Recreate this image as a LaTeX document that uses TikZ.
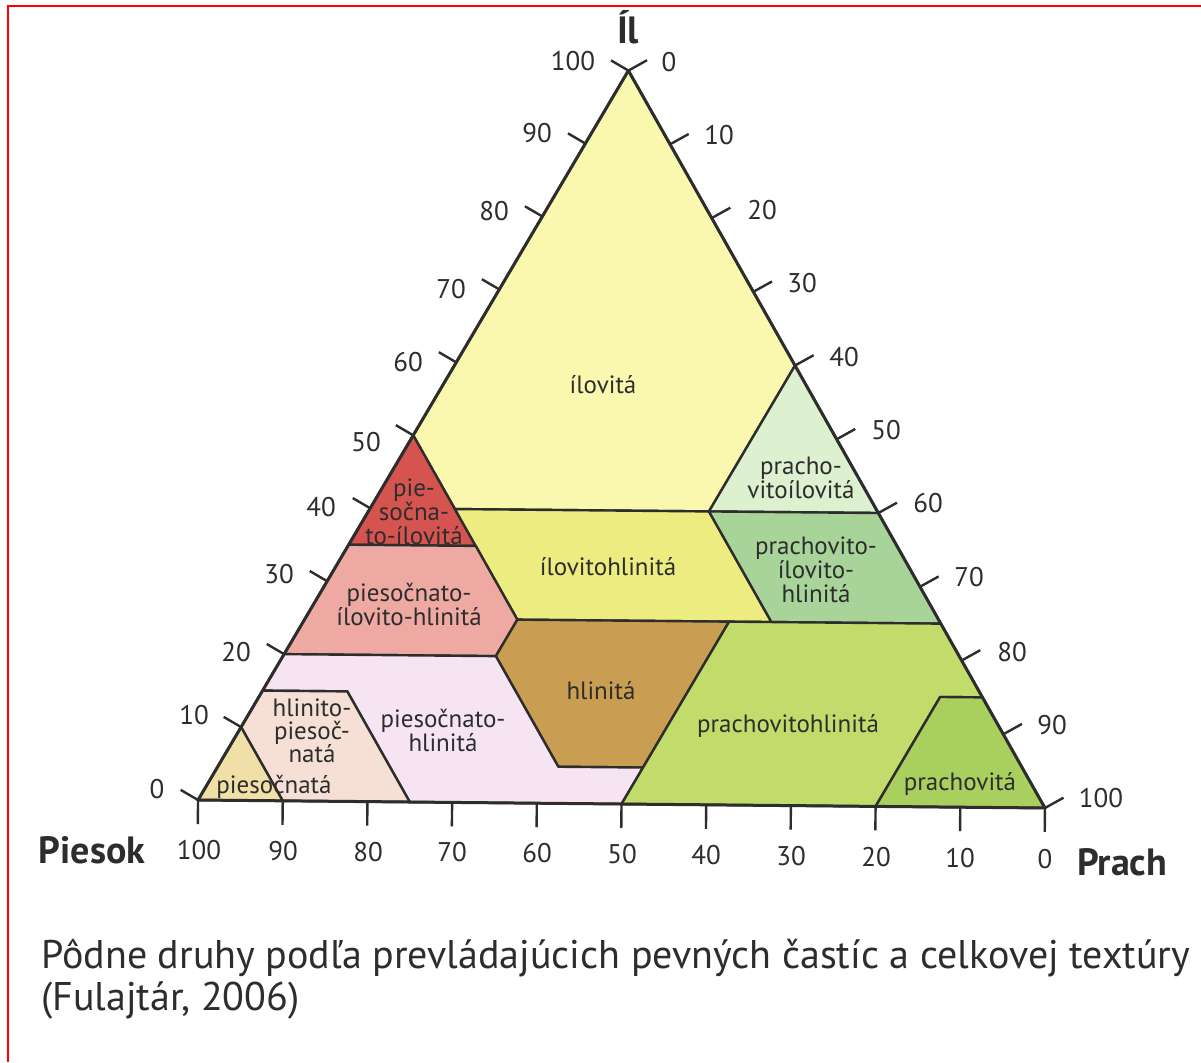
\documentclass[tikz,border=0pt]{standalone}
\usepackage{fontspec}
\setmainfont{PT Sans}
\definecolor{cIl}{RGB}{249,248,174}
\definecolor{cIlHl}{RGB}{236,236,128}
\definecolor{cRed}{RGB}{214,84,80}
\definecolor{cPink}{RGB}{239,169,163}
\definecolor{cLav}{RGB}{246,228,242}
\definecolor{cHlPs}{RGB}{246,224,214}
\definecolor{cPs}{RGB}{241,223,168}
\definecolor{cHl}{RGB}{202,158,82}
\definecolor{cPrHl}{RGB}{194,220,108}
\definecolor{cPr}{RGB}{169,207,94}
\definecolor{cPrIlHl}{RGB}{168,212,154}
\definecolor{cPrIl}{RGB}{221,240,208}
\definecolor{ink}{RGB}{45,45,45}
\begin{document}
\begin{tikzpicture}[x=1pt,y=-1pt,
  region/.style={draw=ink, line width=2.4pt, line join=round},
  tickmark/.style={draw=ink, line width=2.4pt},
  lab/.style={font=\fontsize{25}{24}\selectfont, text=ink, align=center, inner sep=0pt},
  num/.style={font=\fontsize{27}{28}\selectfont, text=ink, inner sep=0pt},
  axisname/.style={font=\bfseries\fontsize{38}{40}\selectfont, text=ink, inner sep=0pt},
  caption/.style={font=\fontsize{40}{44}\selectfont, text=ink, inner sep=0pt, anchor=west}]
\useasboundingbox (0,0) rectangle (1201,1062);
\fill[white] (0,0) rectangle (1201,1062);
\draw[red, line width=2.4pt] (8,1062) -- (8,6) -- (1201,6);

\begin{scope}[rotate around={-0.54:(621.5,804)}]
\begin{scope}[shift={(198,804)}, x={(8.47pt,0pt)}, y={(4.235pt,7.335pt)}]
  % regions (silt, clay)
  \path[region, fill=cIl] (0,100) -- (0,50) -- (10,40) -- (40,40) -- (40,60) -- cycle;
  \path[region, fill=cRed] (0,50) -- (0,35) -- (15,35) -- cycle;
  \path[region, fill=cIlHl] (10,40) -- (40,40) -- (55,25) -- (25,25) -- cycle;
  \path[region, fill=cPrIl] (40,60) -- (40,40) -- (60,40) -- cycle;
  \path[region, fill=cPrIlHl] (40,40) -- (60,40) -- (75,25) -- (55,25) -- cycle;
  \path[region, fill=cPink] (0,35) -- (15,35) -- (25,25) -- (25,20) -- (0,20) -- cycle;
  \path[region, fill=cHl] (25,25) -- (50,25) -- (50,5) -- (40,5) -- (25,20) -- cycle;
  \path[region, fill=cLav] (0,20) -- (25,20) -- (40,5) -- (50,5) -- (50,0) -- (25,0) -- (10,15) -- (0,15) -- cycle;
  \path[region, fill=cHlPs] (0,15) -- (10,15) -- (25,0) -- (10,0) -- (0,10) -- cycle;
  \path[region, fill=cPs] (0,0) -- (0,10) -- (10,0) -- cycle;
  \path[region, fill=cPrHl] (50,25) -- (75,25) -- (85,15) -- (80,15) -- (80,0) -- (50,0) -- cycle;
  \path[region, fill=cPr] (80,15) -- (85,15) -- (100,0) -- (80,0) -- cycle;
  % outline
  \coordinate (Sand) at (0,0);
  \coordinate (Silt) at (100,0);
  \coordinate (Clay) at (0,100);
  \draw[ink, line width=3pt, line join=round] (Sand) -- (Silt) -- (Clay) -- cycle;
  % ticks
  \foreach \c in {0,10,...,100} \draw[tickmark] (0,\c) -- ++(-17.5pt,10pt);
  \foreach \s in {0,10,...,100} \draw[tickmark] (\s,{100-\s}) -- ++(18.5pt,10.5pt);
  \foreach \s in {0,10,...,100} \draw[tickmark] (\s,0) -- ++(0,-24pt);
\end{scope}
\end{scope}

% left axis numbers (clay)
\node[num] (l100) at (573,61) {100};
\node[num] (l90) at (537,133) {90};
\node[num] (l80) at (494,211) {80};
\node[num] (l70) at (451,289) {70};
\node[num] (l60) at (408,362) {60};
\node[num] (l50) at (366,442) {50};
\node[num] (l40) at (321,507) {40};
\node[num] (l30) at (279,574) {30};
\node[num] (l20) at (236,652) {20};
\node[num] (l10) at (194,715) {10};
\node[num] (l0) at (157,789) {0};
% right axis numbers (silt)
\node[num] (r0) at (669,62) {0};
\node[num] (r10) at (719,135) {10};
\node[num] (r20) at (762,210) {20};
\node[num] (r30) at (802,283) {30};
\node[num] (r40) at (844,357) {40};
\node[num] (r50) at (886,430) {50};
\node[num] (r60) at (928,503) {60};
\node[num] (r70) at (969,577) {70};
\node[num] (r80) at (1012,652) {80};
\node[num] (r90) at (1052,725) {90};
\node[num] (r100) at (1101,798) {100};
% bottom axis numbers (sand)
\node[num] (b100) at (199,850) {100};
\node[num] (b90) at (283,851) {90};
\node[num] (b80) at (368,852) {80};
\node[num] (b70) at (452,852) {70};
\node[num] (b60) at (537,853) {60};
\node[num] (b50) at (622,854) {50};
\node[num] (b40) at (706,855) {40};
\node[num] (b30) at (791,856) {30};
\node[num] (b20) at (876,857) {20};
\node[num] (b10) at (960,858) {10};
\node[num] (b0) at (1045,859) {0};

% axis names
\node[axisname] (nIl) at (628,27) {Íl};
\node[axisname] (nPiesok) at (92,850) {Piesok};
\node[axisname] (nPrach) at (1122,862) {Prach};

% region labels
\node[lab] (tIl) at (603,385) {ílovitá};
\node[lab] (tRed) at (414,512) {pie-\\sočna-\\to-ílovitá};
\node[lab] (tPink) at (409,604) {piesočnato-\\ílovito-hlinitá};
\node[lab] (tIlHl) at (608,567) {ílovitohlinitá};
\node[lab] (tPrIlHl) at (816,570) {prachovito-\\ílovito-\\hlinitá};
\node[lab] (tPrIl) at (801,478) {pracho-\\vitoílovitá};
\node[lab] (tHl) at (601,691) {hlinitá};
\node[lab] (tLav) at (443,730) {piesočnato-\\hlinitá};
\node[lab, font=\fontsize{25}{23}\selectfont] (tHlPs) at (312,731) {hlinito-\\piesoč-\\natá};
\node[lab] (tPs) at (274,787) {piesočnatá};
\node[lab] (tPrHl) at (788,726) {prachovitohlinitá};
\node[lab] (tPr) at (960,784) {prachovitá};

% caption
\node[caption] (cap1) at (41,958) {Pôdne druhy podľa prevládajúcich pevných častíc a celkovej textúry};
\node[caption] (cap2) at (41,1000) {(Fulajtár, 2006)};
\end{tikzpicture}
\end{document}
